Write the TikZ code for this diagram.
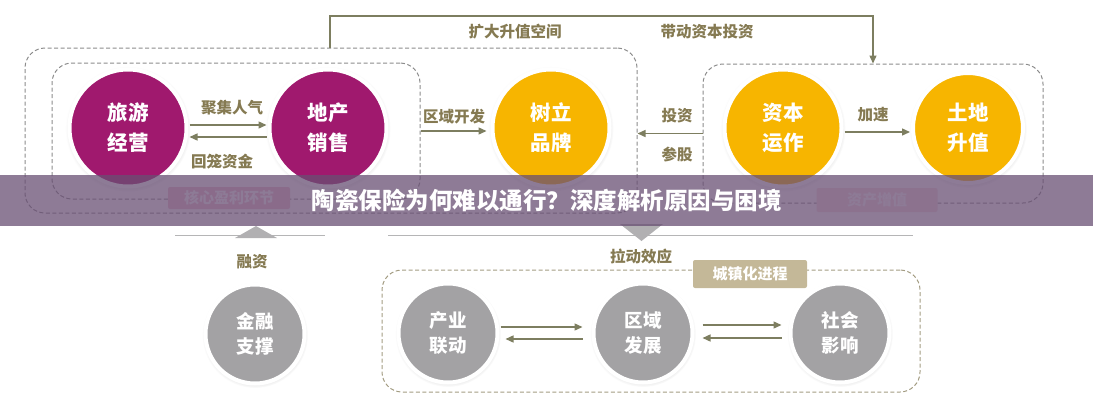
\documentclass[tikz,border=0pt]{standalone}
\usepackage{fontspec}
\setmainfont{Noto Sans CJK SC}
\usepackage{tikz}
\usetikzlibrary{arrows.meta,positioning,shadows}
\definecolor{rose}{HTML}{A0196E}
\definecolor{amber}{HTML}{F7B500}
\definecolor{stone}{HTML}{A3A2A4}
\definecolor{olive}{HTML}{7D7E60}
\definecolor{khaki}{HTML}{857A52}
\definecolor{dashgray}{HTML}{8C8C8C}
\definecolor{dashkhaki}{HTML}{A39C82}
\definecolor{tagrose}{HTML}{F0C2D2}
\definecolor{tagpale}{HTML}{F8DDE2}
\definecolor{tagtan}{HTML}{C4B898}
\definecolor{bandpurple}{HTML}{684F73}
\tikzset{
  bubble/.style ={circle,draw=white,line width=4pt,inner sep=0pt,align=center,
                  text=white,font=\fontsize{20.5}{30}\selectfont\bfseries,
                  circular drop shadow={shadow xshift=0pt,shadow yshift=-1pt,
                  shadow scale=1.07,opacity=.3}},
  rosebub/.style ={bubble,fill=rose,minimum size=117pt},
  amberbub/.style={bubble,fill=amber,minimum size=117pt},
  stonebub/.style={bubble,fill=stone,minimum size=99pt,
                  font=\fontsize{18.5}{25}\selectfont\bfseries},
  zone/.style   ={rounded corners=20pt,draw=dashgray,line width=1pt,
                  dash pattern=on 4pt off 2.5pt},
  tag/.style    ={rounded corners=2pt,inner sep=0pt,text=white,
                  font=\fontsize{15}{18}\selectfont\bfseries},
  lbl/.style    ={text=khaki,font=\fontsize{15.5}{18}\selectfont\bfseries},
  flow/.style   ={-{Triangle[length=8pt,width=7pt]},line width=1.4pt,draw=olive},
  rule/.style   ={line width=1pt,draw=stone!80}
}
\begin{document}
\begin{tikzpicture}[x=1pt,y=-1pt]
  \useasboundingbox (0,0) rectangle (1093,400);
  % dashed groups
  \node[zone,minimum width=612pt,minimum height=165pt] (outer) at (331,130.5) {};
  \node[zone,minimum width=368pt,minimum height=136pt] (inner) at (236,131) {};
  \node[zone,minimum width=340pt,minimum height=139pt] (rbox) at (873,133.5) {};
  \node[zone,draw=dashkhaki,minimum width=538pt,minimum height=122pt] (bbox) at (651,331) {};
  \node[tag,fill=tagrose,minimum width=122pt,minimum height=22pt] (core) at (229,198) {核心盈利环节};
  \node[tag,fill=tagpale,minimum width=121pt,minimum height=24pt] (asset) at (877,200) {资产增值};
  \node[tag,fill=tagtan,minimum width=114pt,minimum height=28pt] (urban) at (750,274) {城镇化进程};
  % circles
  \node[rosebub] (tour) at (128,128) {旅游\\经营};
  \node[rosebub] (sale) at (328,128) {地产\\销售};
  \node[amberbub] (brand) at (551,128) {树立\\品牌};
  \node[amberbub] (capital) at (783,128) {资本\\运作};
  \node[amberbub,minimum size=110pt] (land) at (968,128) {土地\\升值};
  \node[stonebub] (finance) at (255,334) {金融\\支撑};
  \node[stonebub] (industry) at (448,333) {产业\\联动};
  \node[stonebub] (region) at (643,333) {区域\\发展};
  \node[stonebub] (society) at (840,333) {社会\\影响};
  % labels
  \node[lbl] (widen) at (515,32) {扩大升值空间};
  \node[lbl] (drive) at (707,32) {带动资本投资};
  \node[lbl] (gather) at (232,108) {聚集人气};
  \node[lbl] (recoup) at (222,162) {回笼资金};
  \node[lbl] (develop) at (454,117) {区域开发};
  \node[lbl] (invest) at (677,116) {投资};
  \node[lbl] (stake) at (677,154) {参股};
  \node[lbl] (speed) at (873,115) {加速};
  \node[lbl] (fund) at (252,262) {融资};
  \node[lbl] (pull) at (641,257) {拉动效应};
  % connectors
  \coordinate (upL) at (330,16);
  \coordinate (upR) at (873,16);
  \draw[flow] (outer.north -| upL) -- (upL) -- (upR) -- (rbox.north -| upR);
  \draw[flow,shorten <=1pt,shorten >=1pt] ([yshift=3pt]tour.east) -- ([yshift=3pt]sale.west);
  \draw[flow,shorten <=1pt,shorten >=1pt] ([yshift=-9pt]sale.west) -- ([yshift=-9pt]tour.east);
  \draw[flow,shorten >=4pt] (inner.east) -- (inner.east -| brand.west);
  \draw[flow] (rbox.west) -- (rbox.west -| outer.east);
  \draw[flow,shorten <=1pt,shorten >=1pt] ([yshift=-4pt]capital.east) -- ([yshift=-4pt]land.west);
  \draw[flow,shorten <=1pt,shorten >=9pt] ([yshift=6pt]industry.east) -- ([yshift=6pt]region.west);
  \draw[flow,shorten <=9pt,shorten >=6pt] ([yshift=-6pt]region.west) -- ([yshift=-6pt]industry.east);
  \draw[flow,shorten <=8pt,shorten >=7pt] ([yshift=8pt]region.east) -- ([yshift=8pt]society.west);
  \draw[flow,shorten <=7pt,shorten >=8pt] ([yshift=-5pt]society.west) -- ([yshift=-5pt]region.east);
  % dividers
  \coordinate (ruleAL) at (175,235);
  \coordinate (ruleAR) at (325,235);
  \coordinate (ruleBL) at (388,235);
  \coordinate (ruleBR) at (913,235);
  \draw[rule] (ruleAL) -- (ruleAR);
  \draw[rule] (ruleBL) -- (ruleBR);
  \fill[stone!85] (235,238) -- (256,226) -- (277,238) -- cycle;
  \fill[stone!85] (620,224) -- (663,224) -- (641.5,241) -- cycle;
  % title band
  \node[fill=bandpurple,fill opacity=.75,text opacity=1,text=white,
        minimum width=1093pt,minimum height=51pt,
        font=\fontsize{23.5}{28}\selectfont\bfseries] (title) at (546.5,200.5)
        {陶瓷保险为何难以通行？深度解析原因与困境};
\end{tikzpicture}
\end{document}
